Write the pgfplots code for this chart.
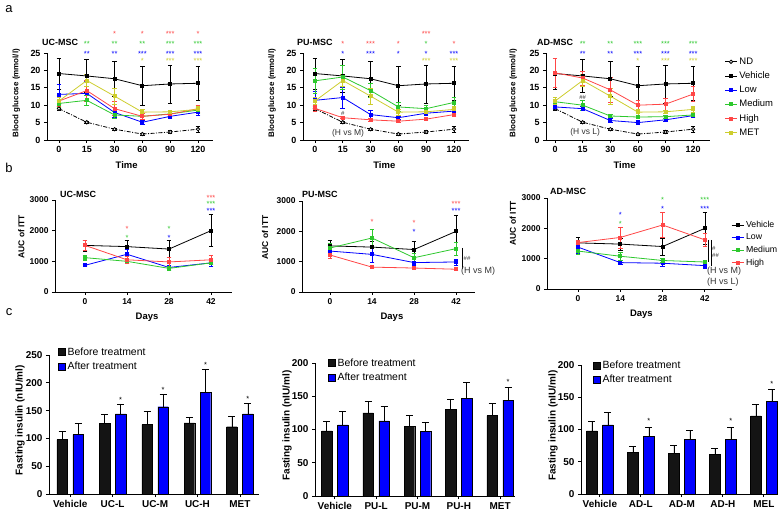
\documentclass[border=0pt]{standalone}
\usepackage{fontspec}
\setmainfont{Liberation Sans}
\usepackage{pgfplots}
\pgfplotsset{compat=1.18}
\definecolor{cblue}{RGB}{0,0,255}
\definecolor{cgreen}{RGB}{45,200,45}
\definecolor{cred}{RGB}{255,70,70}
\definecolor{cyel}{RGB}{205,205,45}
\definecolor{cbar}{RGB}{20,20,20}
\pgfplotsset{
 base/.style={scale only axis, anchor=south west, clip=false,
   axis x line=bottom, axis y line=left, axis line style={-, line width=0.8bp},
   tick align=outside, major tick length=3bp, tick style={line width=0.8bp, black},
   tick label style={font=\bfseries\fontsize{9}{10}\selectfont},
   /pgf/number format/assume math mode=true,
   /pgf/number format/set thousands separator={},
   scaled y ticks=false,
   ylabel style={anchor=center},
   xlabel style={anchor=center}},
 aglu/.style={base, height=87bp, ymin=0, ymax=25, ytick={0,5,...,25},
   xtick={0,...,5}, xticklabels={0,15,30,60,90,120},
   ylabel={Blood glucose (mmol/l)}, xlabel={Time},
   ylabel style={font=\bfseries\fontsize{8}{9}\selectfont},
   xlabel style={font=\bfseries\fontsize{9.5}{10}\selectfont, yshift=-25bp}},
 bauc/.style={base, ymin=0, ymax=3000, ytick={0,1000,2000,3000},
   xtick={0,14,28,42},
   tick label style={font=\bfseries\fontsize{8.5}{9}\selectfont},
   ylabel={AUC of ITT}, xlabel={Days},
   ylabel style={font=\bfseries\fontsize{8.5}{9}\selectfont},
   xlabel style={font=\bfseries\fontsize{9.5}{10}\selectfont, yshift=-25bp}},
 cins/.style={base, ybar=5.5bp, bar width=10.5bp, ymin=0, xtick={0,...,4},
   tick label style={font=\bfseries\fontsize{10}{11}\selectfont},
   ylabel={Fasting insulin (nIU/ml)},
   ylabel style={font=\bfseries\fontsize{10}{11}\selectfont},
   legend style={draw=none, fill=none, anchor=north west, font=\fontsize{10.5}{11}\selectfont, row sep=1.5bp, inner sep=0pt},
   legend cell align=left,
   legend image code/.code={\draw[#1] (0bp,-3.5bp) rectangle (7bp,3.5bp);}},
 ser/.style={line width=0.8bp, mark=square*, mark size=1.5bp, mark options={solid},
   error bars/y dir=both, error bars/y explicit,
   error bars/error bar style={line width=0.6bp, solid},
   error bars/error mark options={rotate=90, mark size=2.3bp, line width=0.6bp, solid}},
 nd/.style={ser, black, dash pattern=on 4bp off 1.5bp on 1bp off 1.5bp, mark=*, mark size=1.7bp, mark options={solid, fill=white, draw=black}},
 veh/.style={ser, black},
 low/.style={ser, cblue},
 med/.style={ser, cgreen},
 hig/.style={ser, cred},
 met/.style={ser, cyel},
 bb/.style={fill=cbar, draw=black, line width=0.4bp,
   error bars/y dir=plus, error bars/y explicit,
   error bars/error bar style={black, line width=0.7bp},
   error bars/error mark options={black, rotate=90, mark size=3.5bp, line width=0.7bp}},
 blb/.style={bb, fill=cblue},
 linelegend/.style={legend image code/.code={\draw[mark repeat=2, mark phase=2, ##1] plot coordinates {(0bp,0bp) (6bp,0bp) (12bp,0bp)};}},
}
\tikzset{stars/.style={font=\fontsize{7.5}{7.5}\selectfont, anchor=base, yshift=-4.2bp, inner sep=0pt},
 ttl/.style={font=\bfseries\fontsize{9}{10}\selectfont, anchor=west, inner sep=0pt},
 ann/.style={font=\fontsize{8.5}{9}\selectfont, text=black!80, inner sep=0pt}}
\newcommand{\st}[4]{\node[stars,text=#1] at (axis cs:#2,#3) {#4};}
\begin{document}
\begin{tikzpicture}
\path[use as bounding box] (0bp,0bp) rectangle (778bp,511bp);

% ---------------- row a ----------------
\begin{axis}[aglu, at={(47bp,371bp)}, width=166bp, xmin=-0.43, xmax=5.54,
  ylabel style={at={(axis description cs:-0.184,0.54)}},
  xlabel style={at={(axis description cs:0.48,0)}}]
\addplot[nd] coordinates {(0,9.0)+-(0,0.6) (1,5.1)+-(0,0.3) (2,3.1)+-(0,0.4) (3,1.7)+-(0,0.3) (4,2.3)+-(0,0.5) (5,3.1)+-(0,0.8)};
\addplot[veh] coordinates {(0,19.1)+-(0,4.5) (1,18.4)+-(0,4.8) (2,17.6)+-(0,5.1) (3,15.6)+-(0,5.5) (4,16.1)+-(0,5.5) (5,16.3)+-(0,4.9)};
\addplot[low] coordinates {(0,13.1)+-(0,2.9) (1,13.4)+-(0,3.5) (2,7.9)+-(0,1.5) (3,5.1)+-(0,0.6) (4,6.8)+-(0,0.6) (5,8.0)+-(0,0.8)};
\addplot[med] coordinates {(0,10.5)+-(0,1.0) (1,11.4)+-(0,1.5) (2,7.2)+-(0,1.0) (3,6.8)+-(0,0.8) (4,7.5)+-(0,0.8) (5,8.6)+-(0,0.8)};
\addplot[hig] coordinates {(0,11.2)+-(0,1.5) (1,14.2)+-(0,3.0) (2,9.0)+-(0,2.0) (3,6.8)+-(0,0.8) (4,7.4)+-(0,0.8) (5,9.0)+-(0,1.0)};
\addplot[met] coordinates {(0,11.2)+-(0,1.0) (1,17.1)+-(0,1.8) (2,12.6)+-(0,2.2) (3,8.0)+-(0,0.8) (4,8.1)+-(0,0.5) (5,8.8)+-(0,0.8)};
\st{cgreen}{1}{27.98}{**}\st{cblue}{1}{25.11}{**}
\st{cred}{2}{30.84}{*}\st{cgreen}{2}{27.98}{**}\st{cblue}{2}{25.11}{**}
\st{cred}{3}{30.84}{*}\st{cgreen}{3}{27.98}{**}\st{cblue}{3}{25.11}{***}\st{cyel}{3}{23.05}{*}
\st{cred}{4}{30.84}{***}\st{cgreen}{4}{27.98}{***}\st{cblue}{4}{25.11}{***}\st{cyel}{4}{23.05}{***}
\st{cred}{5}{30.84}{*}\st{cgreen}{5}{27.98}{***}\st{cblue}{5}{25.11}{***}\st{cyel}{5}{23.05}{***}
\end{axis}

\begin{axis}[aglu, at={(303bp,371bp)}, width=166bp, xmin=-0.43, xmax=5.54,
  ylabel style={at={(axis description cs:-0.187,0.54)}},
  xlabel style={at={(axis description cs:0.49,0)}}]
\addplot[nd] coordinates {(0,9.0)+-(0,0.6) (1,5.1)+-(0,0.3) (2,3.1)+-(0,0.4) (3,1.7)+-(0,0.3) (4,2.3)+-(0,0.5) (5,3.1)+-(0,0.8)};
\addplot[veh] coordinates {(0,19.1)+-(0,4.5) (1,18.4)+-(0,4.8) (2,17.6)+-(0,5.1) (3,15.6)+-(0,5.5) (4,16.1)+-(0,5.5) (5,16.3)+-(0,4.9)};
\addplot[low] coordinates {(0,11.4)+-(0,2.5) (1,12.2)+-(0,3.0) (2,7.3)+-(0,1.2) (3,6.4)+-(0,0.5) (4,7.7)+-(0,0.6) (5,8.3)+-(0,0.8)};
\addplot[med] coordinates {(0,17.0)+-(0,3.5) (1,18.1)+-(0,3.5) (2,14.2)+-(0,2.0) (3,9.5)+-(0,1.2) (4,9.0)+-(0,1.0) (5,10.8)+-(0,1.5)};
\addplot[hig] coordinates {(0,9.1)+-(0,0.8) (1,6.4)+-(0,0.3) (2,5.8)+-(0,0.5) (3,5.4)+-(0,0.4) (4,6.0)+-(0,0.3) (5,7.3)+-(0,0.5)};
\addplot[met] coordinates {(0,11.2)+-(0,1.0) (1,17.1)+-(0,1.8) (2,12.6)+-(0,2.2) (3,8.0)+-(0,0.8) (4,8.1)+-(0,0.5) (5,8.8)+-(0,0.8)};
\st{cred}{1}{27.98}{*}\st{cblue}{1}{25.11}{*}
\st{cred}{2}{27.98}{***}\st{cblue}{2}{25.11}{***}
\st{cred}{3}{27.98}{*}\st{cblue}{3}{25.11}{*}
\st{cred}{4}{30.84}{***}\st{cgreen}{4}{27.98}{*}\st{cblue}{4}{25.11}{*}\st{cyel}{4}{23.05}{***}
\st{cred}{5}{27.98}{*}\st{cblue}{5}{25.11}{***}\st{cyel}{5}{23.05}{***}
\node[ann, font=\fontsize{6}{6}\selectfont] at (axis cs:1,7.7) {\#};
\node[ann] at (axis cs:1.19,2.0) {(H vs M)};
\end{axis}

\begin{axis}[aglu, at={(546bp,371bp)}, width=163.7bp, xmin=-0.33, xmax=5.6,
  ylabel style={at={(axis description cs:-0.2,0.54)}},
  xlabel style={at={(axis description cs:0.48,0)}},
  linelegend,
  legend style={draw=none, fill=none, at={(1.09,0.97)}, anchor=north west, font=\fontsize{9.5}{10}\selectfont, row sep=2bp, inner sep=0pt},
  legend cell align=left]
\addplot[nd] coordinates {(0,9.0)+-(0,0.6) (1,5.1)+-(0,0.3) (2,3.1)+-(0,0.4) (3,1.7)+-(0,0.3) (4,2.3)+-(0,0.5) (5,3.1)+-(0,0.8)};
\addplot[veh] coordinates {(0,19.1)+-(0,4.5) (1,18.4)+-(0,4.8) (2,17.6)+-(0,5.1) (3,15.6)+-(0,5.5) (4,16.1)+-(0,5.5) (5,16.3)+-(0,4.9)};
\addplot[low] coordinates {(0,9.5)+-(0,0.8) (1,9.0)+-(0,0.6) (2,5.6)+-(0,0.6) (3,5.0)+-(0,0.6) (4,5.8)+-(0,0.4) (5,7.0)+-(0,0.4)};
\addplot[med] coordinates {(0,11.0)+-(0,0.8) (1,10.0)+-(0,1.5) (2,6.9)+-(0,0.5) (3,6.6)+-(0,0.4) (4,6.7)+-(0,0.5) (5,7.2)+-(0,0.4)};
\addplot[hig] coordinates {(0,19.3)+-(0,4.3) (1,17.8)+-(0,2.0) (2,14.4)+-(0,3.5) (3,10.0)+-(0,1.5) (4,10.3)+-(0,1.7) (5,13.2)+-(0,2.1)};
\addplot[met] coordinates {(0,11.2)+-(0,1.0) (1,17.1)+-(0,1.8) (2,12.6)+-(0,2.2) (3,8.0)+-(0,0.8) (4,8.1)+-(0,0.5) (5,8.8)+-(0,0.8)};
\legend{ND,Vehicle,Low,Medium,High,MET}
\st{cgreen}{1}{27.98}{**}\st{cblue}{1}{25.11}{**}
\st{cgreen}{2}{27.98}{**}\st{cblue}{2}{25.11}{**}
\st{cgreen}{3}{27.98}{***}\st{cblue}{3}{25.11}{***}\st{cyel}{3}{23.05}{*}
\st{cgreen}{4}{27.98}{***}\st{cblue}{4}{25.11}{***}\st{cyel}{4}{23.05}{***}
\st{cgreen}{5}{27.98}{***}\st{cblue}{5}{25.11}{***}\st{cyel}{5}{23.05}{***}
\node[ann, font=\fontsize{6}{6}\selectfont] at (axis cs:1,12.1) {\#\#};
\node[ann] at (axis cs:1.09,2.1) {(H vs L)};
\end{axis}

% ---------------- row b ----------------
\begin{axis}[bauc, at={(55bp,219bp)}, width=177bp, height=92bp, xmin=-10, xmax=49,
  ylabel style={at={(axis description cs:-0.19,0.6)}},
  xlabel style={at={(axis description cs:0.52,0)}}]
\addplot[veh] coordinates {(0,1520)+-(0,180) (14,1480)+-(0,200) (28,1400)+-(0,280) (42,2000)+-(0,520)};
\addplot[low] coordinates {(0,870)+-(0,40) (14,1230)+-(0,150) (28,800)+-(0,80) (42,950)+-(0,110)};
\addplot[med] coordinates {(0,1120)+-(0,80) (14,1000)+-(0,60) (28,770)+-(0,60) (42,950)+-(0,60)};
\addplot[hig] coordinates {(0,1520)+-(0,150) (14,1050)+-(0,130) (28,980)+-(0,150) (42,1050)+-(0,150)};
\st{cred}{14}{2120}{*}\st{cgreen}{14}{1826}{*}
\st{cgreen}{28}{2120}{*}\st{cblue}{28}{1826}{*}
\st{cred}{42}{3130}{***}\st{cgreen}{42}{2915}{***}\st{cblue}{42}{2700}{***}
\end{axis}

\begin{axis}[bauc, at={(302bp,219bp)}, width=173bp, height=91bp, xmin=-9.3, xmax=48.3,
  ylabel style={at={(axis description cs:-0.214,0.6)}},
  xlabel style={at={(axis description cs:0.52,0)}}]
\addplot[veh] coordinates {(0,1520)+-(0,180) (14,1480)+-(0,200) (28,1400)+-(0,280) (42,2000)+-(0,520)};
\addplot[low] coordinates {(0,1350)+-(0,150) (14,1240)+-(0,250) (28,970)+-(0,100) (42,990)+-(0,100)};
\addplot[med] coordinates {(0,1450)+-(0,150) (14,1780)+-(0,280) (28,1130)+-(0,150) (42,1430)+-(0,220)};
\addplot[hig] coordinates {(0,1220)+-(0,120) (14,820)+-(0,40) (28,790)+-(0,50) (42,750)+-(0,40)};
\st{cred}{14}{2374}{*}
\st{cred}{28}{2340}{*}\st{cblue}{28}{2044}{*}
\st{cred}{42}{2955}{***}\st{cblue}{42}{2720}{***}
\end{axis}

\begin{axis}[bauc, at={(547bp,222bp)}, width=185bp, height=91bp, xmin=-10.3, xmax=51,
  ylabel style={at={(axis description cs:-0.184,0.72)}},
  xlabel style={at={(axis description cs:0.51,0)}},
  linelegend,
  legend style={draw=none, fill=none, at={(0.995,0.77)}, anchor=north west, font=\fontsize{8.8}{10}\selectfont, row sep=0.8bp, inner sep=0pt},
  legend cell align=left]
\addplot[veh] coordinates {(0,1520)+-(0,180) (14,1480)+-(0,200) (28,1400)+-(0,280) (42,2000)+-(0,520)};
\addplot[low] coordinates {(0,1380)+-(0,200) (14,870)+-(0,60) (28,850)+-(0,100) (42,770)+-(0,80)};
\addplot[med] coordinates {(0,1250)+-(0,100) (14,1080)+-(0,120) (28,940)+-(0,60) (42,890)+-(0,50)};
\addplot[hig] coordinates {(0,1530)+-(0,80) (14,1700)+-(0,350) (28,2110)+-(0,420) (42,1620)+-(0,220)};
\legend{Vehicle,Low,Medium,High}
\st{cblue}{14}{2505}{*}\st{cgreen}{14}{2209}{*}
\st{cgreen}{28}{3000}{*}\st{cblue}{28}{2703}{*}
\st{cgreen}{42}{3000}{***}\st{cblue}{42}{2703}{***}
\end{axis}

% ---------------- row c ----------------
\begin{axis}[cins, at={(49bp,17bp)}, width=210bp, height=139bp, xmin=-0.5, xmax=4.45,
  ymax=250, ytick={0,50,...,250}, xticklabels={Vehicle,UC-L,UC-M,UC-H,MET},
  ylabel style={at={(axis description cs:-0.138,0.53)}},
  legend style={at={(0.043,1.07)}}]
\addplot[bb] coordinates {(0,98)+-(0,14) (1,127)+-(0,16) (2,125)+-(0,23) (3,128)+-(0,10) (4,121)+-(0,18)};
\addplot[blb] coordinates {(0,107)+-(0,20) (1,144)+-(0,18) (2,157)+-(0,22) (3,183)+-(0,41) (4,144)+-(0,19)};
\legend{Before treatment,After treatment}
\node[stars, xshift=8bp] at (axis cs:1,173) {*};
\node[stars, xshift=8bp] at (axis cs:2,190) {*};
\node[stars, xshift=8bp] at (axis cs:3,235) {*};
\node[stars, xshift=8bp] at (axis cs:4,174) {*};
\end{axis}

\begin{axis}[cins, at={(315bp,15bp)}, width=200bp, height=133bp, xmin=-0.48, xmax=4.36,
  ymax=200, ytick={0,50,...,200}, xticklabels={Vehicle,PU-L,PU-M,PU-H,MET},
  ylabel style={at={(axis description cs:-0.14,0.53)}},
  legend style={at={(0.065,1.05)}}]
\addplot[bb] coordinates {(0,98)+-(0,14) (1,125)+-(0,17) (2,105)+-(0,16) (3,130)+-(0,16) (4,121)+-(0,18)};
\addplot[blb] coordinates {(0,107)+-(0,20) (1,113)+-(0,22) (2,97)+-(0,14) (3,147)+-(0,24) (4,144)+-(0,19)};
\legend{Before treatment,After treatment}
\node[stars, xshift=8bp] at (axis cs:4,174) {*};
\end{axis}

\begin{axis}[cins, at={(581bp,17bp)}, width=196bp, height=129bp, xmin=-0.46, xmax=4.32,
  ymax=200, ytick={0,50,...,200}, xticklabels={Vehicle,AD-L,AD-M,AD-H,MEL},
  ylabel style={at={(axis description cs:-0.143,0.53)}},
  legend style={at={(0.061,1.05)}}]
\addplot[bb] coordinates {(0,98)+-(0,14) (1,65)+-(0,9) (2,63)+-(0,13) (3,61)+-(0,9) (4,121)+-(0,18)};
\addplot[blb] coordinates {(0,107)+-(0,20) (1,89)+-(0,15) (2,85)+-(0,14) (3,85)+-(0,19) (4,144)+-(0,19)};
\legend{Before treatment,After treatment}
\node[stars, xshift=8bp] at (axis cs:1,116) {*};
\node[stars, xshift=8bp] at (axis cs:3,116) {*};
\node[stars, xshift=8bp] at (axis cs:4,173) {*};
\end{axis}

% ---------------- annotations ----------------
\node[font=\fontsize{13}{13}\selectfont] at (9bp,502bp) {a};
\node[font=\fontsize{13}{13}\selectfont] at (9bp,343bp) {b};
\node[font=\fontsize{13}{13}\selectfont] at (9bp,199bp) {c};
\node[ttl] at (42bp,469bp) {UC-MSC};
\node[ttl] at (297bp,469bp) {PU-MSC};
\node[ttl] at (537bp,469bp) {AD-MSC};
\node[ttl] at (60bp,317bp) {UC-MSC};
\node[ttl] at (302bp,317bp) {PU-MSC};
\node[ttl] at (550bp,320bp) {AD-MSC};
\draw[line width=0.5bp] (462bp,263bp) -- (462bp,242bp);
\node[ann, anchor=west, font=\fontsize{6}{6}\selectfont] at (463.5bp,253bp) {\#\#};
\node[ann, anchor=west, font=\fontsize{9}{9}\selectfont] at (461bp,240bp) {(H vs M)};
\draw[line width=0.5bp] (708bp,271bp) -- (708bp,249bp);
\draw[line width=0.5bp] (711bp,271bp) -- (711bp,245bp);
\node[ann, anchor=west, font=\fontsize{6}{6}\selectfont] at (712bp,263bp) {\#};
\node[ann, anchor=west, font=\fontsize{6}{6}\selectfont] at (712bp,256bp) {\#\#};
\node[ann, anchor=west, font=\fontsize{9}{9}\selectfont] at (707bp,240bp) {(H vs M)};
\node[ann, anchor=west, font=\fontsize{9}{9}\selectfont] at (707bp,229bp) {(H vs L)};
\end{tikzpicture}
\end{document}
